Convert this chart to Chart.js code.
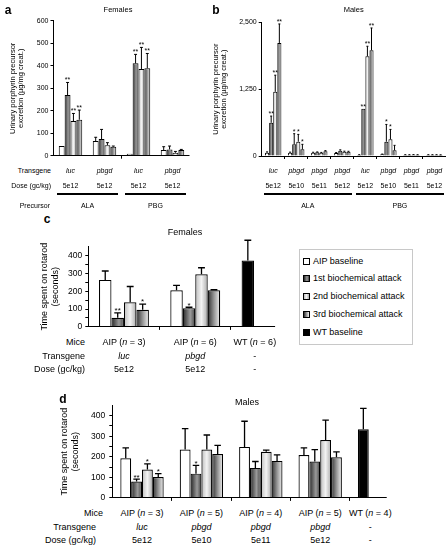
<!DOCTYPE html>
<html><head><meta charset="utf-8">
<script src="https://cdn.jsdelivr.net/npm/chart.js@4/dist/chart.umd.min.js"></script>
<style>
html,body{margin:0;padding:0;background:#fff;}
#wrap{position:relative;width:447px;height:545px;overflow:hidden;font-family:'Liberation Sans',Arial,Helvetica,sans-serif;color:#000;}
canvas{position:absolute;}
.t{position:absolute;white-space:nowrap;line-height:1;}
.c{transform:translate(-50%,-50%);}
.r{transform:translate(-100%,-50%);}
.l{transform:translate(0,-50%);}
.hl{position:absolute;height:1.5px;background:#000;}
.sw{position:absolute;width:5px;height:5px;border:1px solid #000;}
</style></head><body><div id="wrap">
<canvas id="ca" width="200" height="165" style="left:0px;top:0px"></canvas>
<canvas id="cb" width="242" height="165" style="left:205px;top:0px"></canvas>
<canvas id="cc" width="280" height="100" style="left:30px;top:235px"></canvas>
<canvas id="cd" width="407" height="112" style="left:40px;top:395px"></canvas>
</div>
<script>
// ---------------- DATA ----------------
const seriesLabels = ['AIP baseline', '1st biochemical attack', '2nd biochemical attack', '3rd biochemical attack', 'WT baseline'];

// Panel a : Females, urinary porphyrin precursor (µg/mg creat.)
const aPrecursor = ['ALA', 'ALA', 'PBG', 'PBG'];
const aTransgene = ['luc', 'pbgd', 'luc', 'pbgd'];
const aDose = ['5e12', '5e12', '5e12', '5e12'];
const aBaseline = [43, 65, 9, 25];
const aBaselineErr = [0, 17, 0, 15];
const aAttack1 = [270, 74, 411, 28];
const aAttack1Err = [56, 43, 40, 15];
const aAttack2 = [154, 47, 386, 13];
const aAttack2Err = [34, 11, 96, 6];
const aAttack3 = [160, 40, 389, 25];
const aAttack3Err = [43, 3, 66, 3];
const aStars1 = ['**', '', '**', ''];
const aStars2 = ['**', '', '**', ''];
const aStars3 = ['**', '', '**', ''];
const aYTicks = [0, 100, 200, 300, 400, 500, 600];
const aYTickLabels = ['0', '100', '200', '300', '400', '500', '600'];

// Panel b : Males, urinary porphyrin precursor (µg/mg creat.)
const bPrecursor = ['ALA', 'ALA', 'ALA', 'ALA', 'PBG', 'PBG', 'PBG', 'PBG'];
const bTransgene = ['luc', 'pbgd', 'pbgd', 'pbgd', 'luc', 'pbgd', 'pbgd', 'pbgd'];
const bDose = ['5e12', '5e10', '5e11', '5e12', '5e12', '5e10', '5e11', '5e12'];
const bBaseline = [62, 62, 62, 56, 19, 31, 20, 20];
const bBaselineErr = [15, 10, 8, 8, 5, 5, 4, 4];
const bAttack1 = [621, 218, 68, 100, 883, 267, 20, 20];
const bAttack1Err = [125, 199, 8, 15, 0, 323, 4, 4];
const bAttack2 = [1200, 267, 62, 80, 1866, 311, 22, 20];
const bAttack2Err = [311, 137, 5, 10, 186, 186, 4, 4];
const bAttack3 = [2114, 124, 90, 80, 1978, 106, 20, 18];
const bAttack3Err = [355, 94, 10, 8, 416, 93, 4, 4];
const bStars1 = ['**', '*', '', '', '**', '*', '', ''];
const bStars2 = ['**', '*', '', '', '**', '*', '', ''];
const bStars3 = ['**', '*', '', '', '**', '', '', ''];
const bYTicks = [0, 1250, 2500];
const bYTickLabels = ['0', '1,250', '2,500'];

// Panel c : Females, time spent on rotarod (seconds)
const cMice = ['AIP (n = 3)', 'AIP (n = 6)', 'WT (n = 6)'];
const cTransgene = ['luc', 'pbgd', '-'];
const cDose = ['5e12', '5e12', '-'];
const cBaseline = [263, 205, null];
const cBaselineErr = [50, 27, null];
const cAttack1 = [51, 105, null];
const cAttack1Err = [27, 5, null];
const cAttack2 = [138, 295, null];
const cAttack2Err = [88, 36, null];
const cAttack3 = [96, 205, null];
const cAttack3Err = [32, 3, null];
const cWT = [null, null, 371];
const cWTErr = [null, null, 114];
const cStars1 = ['**', '*', ''];
const cStars3 = ['*', '', ''];
const cYTicks = [0, 50, 100, 150, 200, 250, 300, 350, 400];
const cYTickLabels = ['0', '', '100', '', '200', '', '300', '', '400'];

// Panel d : Males, time spent on rotarod (seconds)
const dMice = ['AIP (n = 3)', 'AIP (n = 5)', 'AIP (n = 4)', 'AIP (n = 5)', 'WT (n = 4)'];
const dTransgene = ['luc', 'pbgd', 'pbgd', 'pbgd', '-'];
const dDose = ['5e12', '5e10', '5e11', '5e12', '-'];
const dBaseline = [193, 235, 248, 209, null];
const dBaselineErr = [50, 102, 125, 34, null];
const dAttack1 = [80, 118, 146, 177, null];
const dAttack1Err = [11, 40, 31, 58, null];
const dAttack2 = [138, 235, 224, 282, null];
const dAttack2Err = [28, 71, 8, 96, null];
const dAttack3 = [102, 213, 180, 198, null];
const dAttack3Err = [16, 43, 29, 26, null];
const dWT = [null, null, null, null, 334];
const dWTErr = [null, null, null, null, 102];
const dStars1 = ['**', '*', '', '', ''];
const dStars2 = ['*', '', '', '', ''];
const dStars3 = ['*', '', '', '', ''];
const dYTicks = [0, 50, 100, 150, 200, 250, 300, 350, 400];
const dYTickLabels = ['0', '', '100', '', '200', '', '300', '', '400'];

// ---------------- STYLE ----------------
const FONT = "'Liberation Sans', Arial, Helvetica, sans-serif";
Chart.defaults.font.family = FONT;
Chart.defaults.color = '#000';

const STOPS = {
  a1: [[0, '#262626'], [0.6, '#9a9a9a'], [1, '#444444']],
  a2: [[0, '#bdbdbd'], [0.5, '#f3f3f3'], [1, '#ababab']],
  a3: [[0, '#2f2f2f'], [0.5, '#959595'], [1, '#f2f2f2']]
};
const FLAT = {base: '#ffffff', a1: '#777', a2: '#ddd', a3: '#999', wt: '#000000'};

function fillFor(kind, c) {
  if (!STOPS[kind]) return FLAT[kind];
  const el = c.element;
  if (!el || !isFinite(el.x) || !isFinite(el.width) || el.width <= 0) return FLAT[kind];
  const x0 = el.x - el.width / 2, x1 = el.x + el.width / 2;
  const g = c.chart.ctx.createLinearGradient(x0, 0, x1, 0);
  STOPS[kind].forEach(s => g.addColorStop(s[0], s[1]));
  return g;
}

const errPlugin = {
  id: 'errs',
  afterDatasetsDraw(chart, args, opts) {
    const g = chart.ctx, y = chart.scales.y;
    chart.data.datasets.forEach((ds, di) => {
      if (!ds.errs) return;
      const meta = chart.getDatasetMeta(di);
      meta.data.forEach((el, i) => {
        const v = ds.data[i];
        if (v == null) return;
        const e = ds.errs[i] || 0;
        const top = y.getPixelForValue(v + e);
        g.save();
        g.strokeStyle = '#000';
        g.lineWidth = opts.lw;
        if (e > 0) {
          const cw = el.width * opts.cap / 2;
          g.beginPath();
          g.moveTo(el.x, el.y);
          g.lineTo(el.x, top);
          g.moveTo(el.x - cw, top);
          g.lineTo(el.x + cw, top);
          g.stroke();
        }
        const s = ds.stars && ds.stars[i];
        if (s) {
          g.fillStyle = '#000';
          g.font = opts.starFs + 'px ' + FONT;
          g.textAlign = 'center';
          g.textBaseline = 'alphabetic';
          g.fillText(s, el.x, top + 0.55 * opts.starFs - 4);
        }
        g.restore();
      });
    });
  }
};

const axisPlugin = {
  id: 'xline',
  afterDatasetsDraw(chart, args, opts) {
    const a = chart.chartArea, g = chart.ctx, x = chart.scales.x;
    const n = chart.data.labels.length;
    let end = a.right;
    if (opts.frac != null) {
      const w = (a.right - a.left) / n;
      end = x.getPixelForValue(n - 1) + opts.frac * w;
    }
    const yy = Math.round(a.bottom - 0.5) + 0.5;
    g.save();
    g.strokeStyle = '#000';
    g.lineWidth = 1;
    g.beginPath();
    g.moveTo(a.left, yy);
    g.lineTo(end, yy);
    g.stroke();
    g.restore();
  }
};

function makeBar(id, cfg) {
  const kinds = ['base', 'a1', 'a2', 'a3', 'wt'];
  const sets = cfg.series.map(s => ({
    label: seriesLabels[s.k],
    data: s.data, errs: s.errs, stars: s.stars,
    stack: cfg.useStacks ? s.stack : undefined,
    backgroundColor: c => fillFor(kinds[s.k], c),
    borderColor: '#000', borderWidth: cfg.bw,
    categoryPercentage: cfg.cat, barPercentage: 1
  }));
  const chart = new Chart(document.getElementById(id), {
    type: 'bar',
    data: {labels: cfg.labels, datasets: sets},
    options: {
      responsive: false, animation: false, events: [], locale: 'en-US', devicePixelRatio: 1,
      layout: {padding: cfg.pad},
      plugins: {
        legend: {display: false}, tooltip: {enabled: false},
        errs: {lw: cfg.elw, cap: cfg.cap, starFs: cfg.starFs},
        xline: {frac: cfg.frac}
      },
      scales: {
        x: {
          afterFit: s => { s.height = 4; },
          ticks: {display: false},
          grid: {display: true, drawOnChartArea: false, drawTicks: true, tickLength: 3, tickWidth: 1, offset: true,
                 tickColor: c => cfg.xTick(c.index) ? '#000' : 'rgba(0,0,0,0)'},
          border: {display: false}
        },
        y: {
          min: 0, max: cfg.ymax, stacked: false,
          afterBuildTicks: s => { s.ticks = cfg.yTicks.map(v => ({value: v})); },
          afterFit: s => { s.width = cfg.yw; },
          ticks: {callback: (v, i) => cfg.yLabels[i], font: {size: cfg.tickFs}, color: '#000', padding: cfg.tickPad, autoSkip: false},
          grid: {drawOnChartArea: false, drawTicks: true, tickLength: 3, tickColor: '#000', tickWidth: 1},
          border: {display: true, color: '#000', width: 1},
          title: {display: true, text: cfg.yTitle, color: '#000',
                  font: {size: cfg.titleFs, lineHeight: cfg.titleLh}, padding: {top: cfg.titlePad, bottom: 0}}
        }
      }
    },
    plugins: [errPlugin, axisPlugin]
  });
  chart.update('none');
  return chart;
}

const yTitleA = ['Urinary porphyrin precursor', 'excretion (µg/mg creat.)'];
const yTitleC = ['Time spent on rotarod', '(seconds)'];

const chartA = makeBar('ca', {
  labels: aTransgene.map((t, i) => aPrecursor[i] + ' ' + t + ' ' + aDose[i]),
  series: [
    {k: 0, data: aBaseline, errs: aBaselineErr},
    {k: 1, data: aAttack1, errs: aAttack1Err, stars: aStars1},
    {k: 2, data: aAttack2, errs: aAttack2Err, stars: aStars2},
    {k: 3, data: aAttack3, errs: aAttack3Err, stars: aStars3}
  ],
  pad: {left: 0, right: 10.5, top: 20.9, bottom: 5.3}, yw: 53.5, ymax: 600,
  yTicks: aYTicks, yLabels: aYTickLabels, tickFs: 7, tickPad: 2,
  yTitle: yTitleA, titleFs: 7.5, titleLh: 1.1, titlePad: 8.9,
  cat: 0.69, bw: 1, elw: 1, cap: 0.5, starFs: 7, frac: null,
  xTick: i => i === 2
});

const chartB = makeBar('cb', {
  labels: bTransgene.map((t, i) => bPrecursor[i] + ' ' + t + ' ' + bDose[i]),
  series: [
    {k: 0, data: bBaseline, errs: bBaselineErr},
    {k: 1, data: bAttack1, errs: bAttack1Err, stars: bStars1},
    {k: 2, data: bAttack2, errs: bAttack2Err, stars: bStars2},
    {k: 3, data: bAttack3, errs: bAttack3Err, stars: bStars3}
  ],
  pad: {left: 0, right: 1, top: 22.3, bottom: 5}, yw: 56.7, ymax: 2500,
  yTicks: bYTicks, yLabels: bYTickLabels, tickFs: 7, tickPad: 2,
  yTitle: yTitleA, titleFs: 7.5, titleLh: 1.1, titlePad: 6.4,
  cat: 0.71, bw: 1, elw: 1, cap: 0.5, starFs: 7, frac: null,
  xTick: i => i >= 1
});

const chartC = makeBar('cc', {
  labels: cMice, useStacks: true,
  series: [
    {k: 0, data: cBaseline, errs: cBaselineErr, stack: 's0'},
    {k: 1, data: cAttack1, errs: cAttack1Err, stars: cStars1, stack: 's1'},
    {k: 2, data: cAttack2, errs: cAttack2Err, stack: 's2'},
    {k: 3, data: cAttack3, errs: cAttack3Err, stars: cStars3, stack: 's3'},
    {k: 4, data: cWT, errs: cWTErr, stack: 's0'}
  ],
  pad: {left: 0, right: 7.8, top: 11.5, bottom: 1.7}, yw: 58.3, ymax: 450,
  yTicks: cYTicks, yLabels: cYTickLabels, tickFs: 8.5, tickPad: 3,
  yTitle: yTitleC, titleFs: 9, titleLh: 1.2, titlePad: 9.1,
  cat: 0.70, bw: 1.2, elw: 1.3, cap: 0.55, starFs: 8, frac: 0.12,
  xTick: i => i === 1 || i === 2
});

const chartD = makeBar('cd', {
  labels: dMice, useStacks: true,
  series: [
    {k: 0, data: dBaseline, errs: dBaselineErr, stack: 's0'},
    {k: 1, data: dAttack1, errs: dAttack1Err, stars: dStars1, stack: 's1'},
    {k: 2, data: dAttack2, errs: dAttack2Err, stars: dStars2, stack: 's2'},
    {k: 3, data: dAttack3, errs: dAttack3Err, stars: dStars3, stack: 's3'},
    {k: 4, data: dWT, errs: dWTErr, stack: 's0'}
  ],
  pad: {left: 0, right: 37.7, top: 10.4, bottom: 2}, yw: 72.3, ymax: 450,
  yTicks: dYTicks, yLabels: dYTickLabels, tickFs: 8.5, tickPad: 4,
  yTitle: yTitleC, titleFs: 9, titleLh: 1.2, titlePad: 19.6,
  cat: 0.73, bw: 1.2, elw: 1.3, cap: 0.6, starFs: 8, frac: 0.12,
  xTick: i => i >= 1 && i <= 4
});

// ---------------- TEXT / ANNOTATIONS ----------------
const W = document.getElementById('wrap');
function txt(html, x, y, cls, size, extra) {
  const d = document.createElement('div');
  d.className = 't ' + cls;
  d.style.left = x + 'px';
  d.style.top = y + 'px';
  d.style.fontSize = size + 'px';
  d.innerHTML = html;
  if (extra) Object.assign(d.style, extra);
  W.appendChild(d);
  return d;
}
function hline(x0, x1, y) {
  const d = document.createElement('div');
  d.className = 'hl';
  d.style.left = x0 + 'px'; d.style.top = (y - 0.75) + 'px'; d.style.width = (x1 - x0) + 'px';
  W.appendChild(d);
}
function cx(chart, i, left) { return left + chart.scales.x.getPixelForValue(i); }
function catW(chart) { const a = chart.chartArea; return (a.right - a.left) / chart.data.labels.length; }
function italN(s) { return s.replace('(n', '(<i>n</i>'); }
function wtX(chart, left) { const m = chart.getDatasetMeta(4); const el = m.data[m.data.length - 1]; return left + el.x + 7; }

// panel letters & titles
const bold = {fontWeight: 'bold'};
txt('a', 8, 10, 'c', 12, bold);
txt('b', 216, 10, 'c', 12, bold);
txt('c', 47, 219, 'c', 12, bold);
txt('d', 63, 399, 'c', 12, bold);
txt('Females', 118, 10, 'c', 7.5);
txt('Males', 353.7, 10, 'c', 7.5);
txt('Females', 185, 231.7, 'c', 9);
txt('Males', 247, 402, 'c', 9);

// panel a/b table
txt('Transgene', 51, 170, 'r', 7);
txt('Dose (gc/kg)', 51, 185, 'r', 7);
txt('Precursor', 50, 204.5, 'r', 7);
function precursorRows(chart, left, trans, dose, prec) {
  trans.forEach((t, i) => {
    txt('<i>' + t + '</i>', cx(chart, i, left), 170, 'c', 7);
    txt(dose[i], cx(chart, i, left), 185, 'c', 7);
  });
  const w = catW(chart);
  let s = 0;
  for (let i = 1; i <= prec.length; i++) {
    if (i === prec.length || prec[i] !== prec[s]) {
      const x0 = cx(chart, s, left) - 0.4 * w, x1 = cx(chart, i - 1, left) + 0.4 * w;
      hline(x0, x1, 194);
      txt(prec[s], (x0 + x1) / 2, 204.5, 'c', 7);
      s = i;
    }
  }
}
precursorRows(chartA, 0, aTransgene, aDose, aPrecursor);
precursorRows(chartB, 205, bTransgene, bDose, bPrecursor);

// panel c table
txt('Mice', 85, 341.7, 'r', 9);
txt('Transgene', 85, 355.7, 'r', 9);
txt('Dose (gc/kg)', 85, 369.3, 'r', 9);
cMice.forEach((m, i) => {
  const x = (i === cMice.length - 1) ? wtX(chartC, 30) : cx(chartC, i, 30);
  txt(italN(m), x, 341.7, 'c', 9);
  txt(cTransgene[i] === '-' ? '-' : '<i>' + cTransgene[i] + '</i>', x, 355.7, 'c', 9);
  txt(cDose[i], x, 369.3, 'c', 9);
});

// panel d table
txt('Mice', 103, 512.7, 'r', 9);
txt('Transgene', 96, 526.7, 'r', 9);
txt('Dose (gc/kg)', 96, 540, 'r', 9);
dMice.forEach((m, i) => {
  const x = (i === dMice.length - 1) ? wtX(chartD, 40) : cx(chartD, i, 40);
  txt(italN(m), x, 512.7, 'c', 9);
  txt(dTransgene[i] === '-' ? '-' : '<i>' + dTransgene[i] + '</i>', x, 526.7, 'c', 9);
  txt(dDose[i], x, 540, 'c', 9);
});

// legend
const lg = document.createElement('div');
Object.assign(lg.style, {position: 'absolute', left: '298.5px', top: '249px', width: '114px', height: '96px',
  border: '1px solid #c8c8c8', boxSizing: 'border-box', background: '#fff'});
W.appendChild(lg);
const legendY = [261, 278, 296, 314, 332];
const swatchCss = [
  '#fff',
  'linear-gradient(90deg,#262626,#9a9a9a 60%,#444)',
  'linear-gradient(90deg,#bdbdbd,#f3f3f3 50%,#ababab)',
  'linear-gradient(90deg,#2f2f2f,#959595 50%,#f2f2f2)',
  '#000'
];
seriesLabels.forEach((lab, i) => {
  const s = document.createElement('div');
  s.className = 'sw';
  s.style.left = '303px';
  s.style.top = (legendY[i] - 3.5) + 'px';
  s.style.background = swatchCss[i];
  W.appendChild(s);
  txt(lab, 313, legendY[i], 'l', 9);
});
</script>
</body></html>
